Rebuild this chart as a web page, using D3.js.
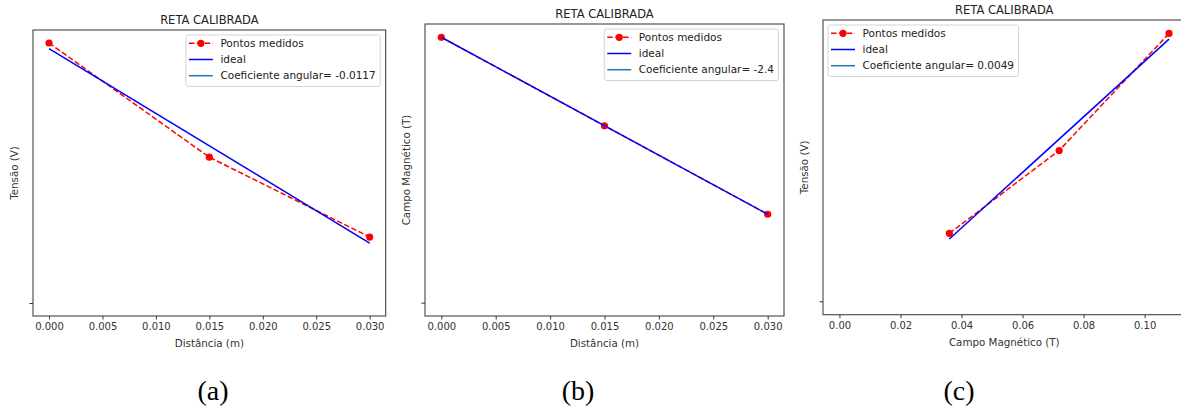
<!DOCTYPE html>
<html>
<head>
<meta charset="utf-8">
<script src="https://cdn.jsdelivr.net/npm/d3@7"></script>
<style>
    body { margin: 0; background: #fff; }
    svg { display: block; font-family: 'DejaVu Sans', sans-serif; }
</style>
</head>
<body>
<div id="chart"></div>
<script>
'use strict';

// Data
const distancia = [0, 0.015, 0.030];              // m
const campo = [0.036, 0.072, 0.108];              // T
const tensaoPorDist = [0.000469, 0.000263, 0.000119];   // V, panel (a)
const campoPorDist = [0.108, 0.072, 0.036];             // T, panel (b)
const tensaoPorCampo = [0.000119, 0.000264, 0.000469];  // V, panel (c)

// "ideal" fit line, value at first and last x
const idealDistX = [0, 0.030];
const idealCampoX = [0.036, 0.108];
const idealA = [0.000459, 0.000108];
const idealB = [0.108, 0.036];
const idealC = [0.000109, 0.000459];

// third legend entry is a single point at the origin (invisible)
const coefX = [0];
const coefY = [0];

const slopes = ['-0.0117', '-2.4', '0.0049'];
const ticksDist = [0, 0.005, 0.010, 0.015, 0.020, 0.025, 0.030];
const ticksCampo = [0, 0.02, 0.04, 0.06, 0.08, 0.10];
const yTicks = [0];
const captions = ['(a)', '(b)', '(c)'];

const W = 1181, H = 410;

const svg = d3.select('#chart')
    .append('svg')
    .attr('width', W)
    .attr('height', H);

class CalibPlot {

    constructor(_cfg) {
        this.cfg = _cfg;
        this.initVis();
    }

    initVis() {
        const vis = this;
        const c = vis.cfg;

        vis.g = svg.append('g').attr('class', 'panel');

        // matplotlib-like 5% margins around all plotted data
        const xs = c.x.concat(c.idealX, coefX);
        const ys = c.y.concat(c.ideal, coefY);
        const xe = d3.extent(xs), ye = d3.extent(ys);
        const xp = (xe[1] - xe[0]) * 0.05, yp = (ye[1] - ye[0]) * 0.05;

        vis.xScale = d3.scaleLinear()
            .domain([xe[0] - xp, xe[1] + xp])
            .range([c.left, c.right]);
        vis.yScale = d3.scaleLinear()
            .domain([ye[0] - yp, ye[1] + yp])
            .range([c.bottom, c.top]);

        vis.updateVis();
    }

    updateVis() {
        const vis = this;
        const c = vis.cfg;
        const line = d3.line()
            .x(d => vis.xScale(d[0]))
            .y(d => vis.yScale(d[1]));

        // measured points
        const pts = c.x.map((d, i) => [d, c.y[i]]);
        vis.g.append('path')
            .attr('d', line(pts))
            .attr('fill', 'none')
            .attr('stroke', '#ff0000')
            .attr('stroke-width', 1.5)
            .attr('stroke-dasharray', '5.5,2.4');
        vis.g.selectAll('.pt')
            .data(pts)
            .join('circle')
            .attr('class', 'pt')
            .attr('cx', d => vis.xScale(d[0]))
            .attr('cy', d => vis.yScale(d[1]))
            .attr('r', 3.6)
            .attr('fill', '#ff0000');

        // ideal line
        const ide = c.idealX.map((d, i) => [d, c.ideal[i]]);
        vis.g.append('path')
            .attr('d', line(ide))
            .attr('fill', 'none')
            .attr('stroke', '#0000ff')
            .attr('stroke-width', 1.5);

        // x axis
        const xAxis = d3.axisBottom(vis.xScale)
            .tickValues(c.xTicks)
            .tickFormat(d3.format(c.xFmt))
            .tickSize(3.5)
            .tickPadding(3.5);
        const xg = vis.g.append('g')
            .attr('transform', `translate(0,${c.bottom})`)
            .call(xAxis);
        xg.select('.domain').remove();
        xg.selectAll('line').attr('stroke', '#333');
        xg.selectAll('text')
            .attr('fill', '#333')
            .style('font-size', '10px')
            .style('font-family', 'DejaVu Sans');

        // y axis: single unlabeled tick
        const yAxis = d3.axisLeft(vis.yScale)
            .tickValues(yTicks)
            .tickFormat('')
            .tickSize(3.5);
        const yg = vis.g.append('g')
            .attr('transform', `translate(${c.left},0)`)
            .call(yAxis);
        yg.select('.domain').remove();
        yg.selectAll('line').attr('stroke', '#333');

        // spines
        vis.g.append('rect')
            .attr('x', c.left)
            .attr('y', c.top)
            .attr('width', c.right - c.left)
            .attr('height', c.bottom - c.top)
            .attr('fill', 'none')
            .attr('stroke', '#444')
            .attr('stroke-width', 1.1);

        // labels
        const midX = (c.left + Math.min(c.right, W + 4)) / 2;
        vis.g.append('text')
            .attr('x', (c.left + c.right) / 2)
            .attr('y', c.top - 6)
            .attr('text-anchor', 'middle')
            .attr('fill', '#222')
            .style('font-size', '11.5px')
            .text('RETA CALIBRADA');
        vis.g.append('text')
            .attr('x', (c.left + c.right) / 2)
            .attr('y', c.bottom + 31)
            .attr('text-anchor', 'middle')
            .attr('fill', '#333')
            .style('font-size', '10.3px')
            .text(c.xLabel);
        vis.g.append('text')
            .attr('transform', `translate(${c.left - 18.5},${(c.top + c.bottom) / 2}) rotate(-90)`)
            .attr('dy', '0.35em')
            .attr('text-anchor', 'middle')
            .attr('fill', '#333')
            .style('font-size', '10.3px')
            .text(c.yLabel);

        // caption below the panel
        vis.g.append('text')
            .attr('x', c.capX)
            .attr('y', 400)
            .attr('text-anchor', 'middle')
            .attr('fill', '#000')
            .style('font-family', "'Liberation Serif', serif")
            .style('font-size', '28px')
            .text(c.caption);

        vis.drawLegend();
    }

    drawLegend() {
        const vis = this;
        const c = vis.cfg;

        const lg = vis.g.append('g').attr('class', 'legend');
        const box = lg.append('rect');
        const labels = ['Pontos medidos', 'ideal', `Coeficiente angular= ${c.slope}`];
        const rowY = i => 8.3 + i * 16.2;

        const texts = lg.selectAll('.lt')
            .data(labels)
            .join('text')
            .attr('class', 'lt')
            .attr('x', 34.5)
            .attr('y', (d, i) => rowY(i))
            .attr('dy', '0.35em')
            .attr('fill', '#222')
            .style('font-size', '10.5px')
            .text(d => d);

        let maxW = 0;
        texts.each(function() { maxW = Math.max(maxW, this.getComputedTextLength()); });
        const bw = 34.5 + maxW + 4.5, bh = 51.5;

        box.attr('width', bw)
            .attr('height', bh)
            .attr('rx', 2.5)
            .attr('fill', '#fff')
            .attr('fill-opacity', 0.85)
            .attr('stroke', '#d4d4d4')
            .attr('stroke-width', 1);

        // handles
        lg.append('line')
            .attr('x1', 3).attr('x2', 27)
            .attr('y1', rowY(0)).attr('y2', rowY(0))
            .attr('stroke', '#ff0000')
            .attr('stroke-width', 1.5)
            .attr('stroke-dasharray', '5.5,2.4');
        lg.append('circle')
            .attr('cx', 15).attr('cy', rowY(0))
            .attr('r', 3.6)
            .attr('fill', '#ff0000');
        lg.append('line')
            .attr('x1', 3).attr('x2', 27)
            .attr('y1', rowY(1)).attr('y2', rowY(1))
            .attr('stroke', '#0000ff')
            .attr('stroke-width', 1.5);
        lg.append('line')
            .attr('x1', 3).attr('x2', 27)
            .attr('y1', rowY(2)).attr('y2', rowY(2))
            .attr('stroke', '#1f77b4')
            .attr('stroke-width', 1.5);

        const bx = c.legendLoc === 'right' ? c.right - 5.5 - bw : c.left + 5;
        lg.attr('transform', `translate(${bx},${c.top + 5})`);
    }
}

const panels = [
    {
        left: 33, right: 385.7, top: 30, bottom: 316,
        x: distancia, y: tensaoPorDist, idealX: idealDistX, ideal: idealA,
        xTicks: ticksDist, xFmt: '.3f',
        xLabel: 'Distância (m)', yLabel: 'Tensão (V)',
        slope: slopes[0], legendLoc: 'right', caption: captions[0], capX: 213
    },
    {
        left: 425, right: 784, top: 24, bottom: 316,
        x: distancia, y: campoPorDist, idealX: idealDistX, ideal: idealB,
        xTicks: ticksDist, xFmt: '.3f',
        xLabel: 'Distância (m)', yLabel: 'Campo Magnético (T)',
        slope: slopes[1], legendLoc: 'right', caption: captions[1], capX: 578
    },
    {
        left: 823, right: 1185.5, top: 20, bottom: 314.7,
        x: campo, y: tensaoPorCampo, idealX: idealCampoX, ideal: idealC,
        xTicks: ticksCampo, xFmt: '.2f',
        xLabel: 'Campo Magnético (T)', yLabel: 'Tensão (V)',
        slope: slopes[2], legendLoc: 'left', caption: captions[2], capX: 959
    }
];

panels.forEach(p => new CalibPlot(p));
</script>
</body>
</html>
